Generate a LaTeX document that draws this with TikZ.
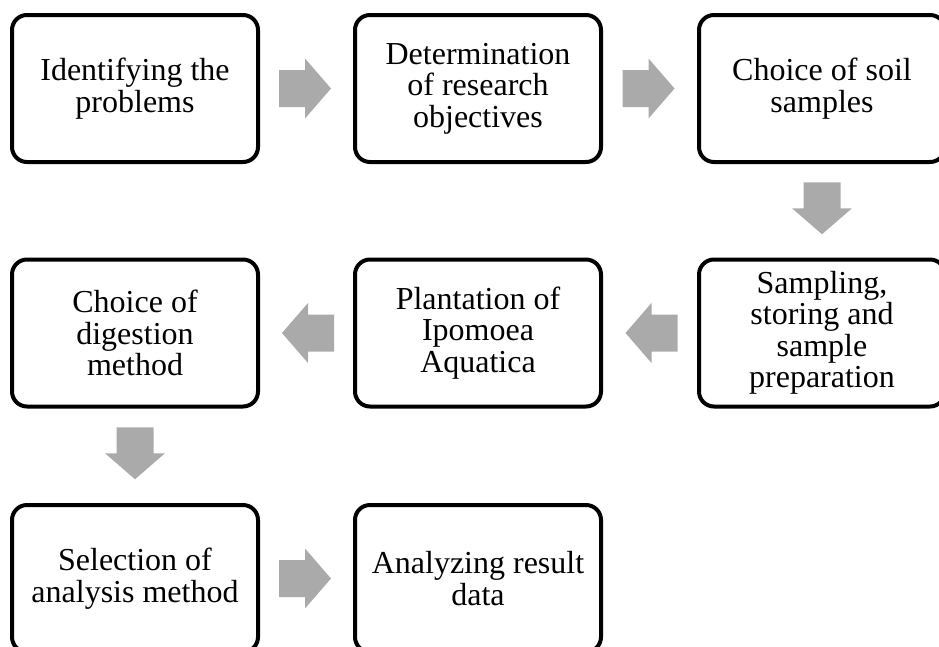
\documentclass[tikz,border=0pt]{standalone}
\usepackage{fontspec}
\setmainfont{Liberation Serif}
\usetikzlibrary{calc}
\definecolor{arrowgray}{RGB}{170,170,170}
\newcommand\myarrow[2]{%
  \fill[arrowgray, shift={#1}, rotate=#2]
    (-26,-18.5) -- (0,-18.5) -- (0,-30) -- (26,0) -- (0,30) -- (0,18.5) -- (-26,18.5) -- cycle;}
\begin{document}
\begin{tikzpicture}[x=1pt,y=-1pt,
  stepbox/.style={draw=black, line width=4pt, rounded corners=15pt, fill=white,
    minimum width=246pt, minimum height=147pt, inner sep=0pt, align=center,
    font=\fontsize{32}{31.5}\selectfont}]
\useasboundingbox (0,0) rectangle (939,646);
\node[stepbox] (b1) at (135,88.5) {Identifying the\\problems};
\node[stepbox] (b2) at (478,88.5) {Determination\\of research\\objectives};
\node[stepbox] (b3) at (822,88.5) {Choice of soil\\samples};
\node[stepbox] (b4) at (822,333) {Sampling,\\storing and\\sample\\preparation};
\node[stepbox] (b5) at (478,333) {Plantation of\\Ipomoea\\Aquatica};
\node[stepbox] (b6) at (135,333) {Choice of\\digestion\\method};
\node[stepbox] (b7) at (135,578.5) {Selection of\\analysis method};
\node[stepbox] (b8) at (478,578.5) {Analyzing result\\data};
\coordinate (a12) at ($(b1.east)!0.5!(b2.west)+(-1.5,0)$);
\coordinate (a23) at ($(b2.east)!0.5!(b3.west)+(-1.5,0)$);
\coordinate (a34) at ($(b3.south)!0.5!(b4.north)+(0,-2.5)$);
\coordinate (a45) at ($(b4.west)!0.5!(b5.east)+(1.5,0)$);
\coordinate (a56) at ($(b5.west)!0.5!(b6.east)+(1.5,0)$);
\coordinate (a67) at ($(b6.south)!0.5!(b7.north)+(0,-2.5)$);
\coordinate (a78) at ($(b7.east)!0.5!(b8.west)+(-1.5,0)$);
\myarrow{(a12)}{0}
\myarrow{(a23)}{0}
\myarrow{(a34)}{-90}
\myarrow{(a45)}{180}
\myarrow{(a56)}{180}
\myarrow{(a67)}{-90}
\myarrow{(a78)}{0}
\end{tikzpicture}
\end{document}
